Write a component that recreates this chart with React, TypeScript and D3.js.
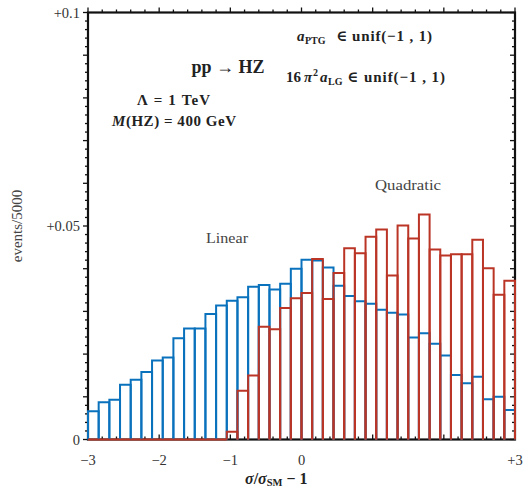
import React from "react";
import * as d3 from "d3";

const W = 524;
const H = 489;

// bin edges: 40 bins of width 0.15 from -3 to +3
const binEdges: number[] = d3.range(0, 41).map((i) => -3 + i * 0.15);

const linearValues: number[] = [
  0.0066, 0.0087, 0.0093, 0.0128, 0.014, 0.0158, 0.0185, 0.0192, 0.0237, 0.026,
  0.026, 0.0294, 0.0314, 0.0325, 0.0333, 0.0358, 0.0362, 0.0351, 0.0365, 0.04,
  0.0421, 0.0419, 0.0403, 0.036, 0.0336, 0.0324, 0.0318, 0.0304, 0.0297, 0.0293,
  0.0239, 0.0249, 0.0224, 0.0197, 0.0151, 0.0132, 0.0147, 0.0094, 0.01, 0.0069,
];

const quadraticValues: number[] = [
  0, 0, 0, 0, 0, 0, 0, 0, 0, 0,
  0, 0, 0, 0.0018, 0.0114, 0.015, 0.0264, 0.0258, 0.0308, 0.0331,
  0.0343, 0.0423, 0.0329, 0.039, 0.0448, 0.0436, 0.0475, 0.0492, 0.0384, 0.0501,
  0.0471, 0.0527, 0.0445, 0.0431, 0.0434, 0.0434, 0.0468, 0.0401, 0.0339, 0.0372,
];

const xTickLabels: { v: number; t: string }[] = [
  { v: -3, t: "\u22123" },
  { v: -2, t: "\u22122" },
  { v: -1, t: "\u22121" },
  { v: 0, t: "0" },
  { v: 3, t: "+3" },
];
const yTickLabels: { v: number; t: string }[] = [
  { v: 0, t: "0" },
  { v: 0.05, t: "+0.05" },
  { v: 0.1, t: "+0.1" },
];

const BLUE = "#0a72bd";
const RED = "#bb3526";
const SERIF = "'Liberation Serif', 'DejaVu Serif', serif";

export default function App() {
  const x = d3.scaleLinear().domain([-3, 3]).range([88, 515]);
  const y = d3.scaleLinear().domain([0, 0.1]).range([439.5, 12.5]);
  const x0 = x.range()[0], x1 = x.range()[1];
  const y0 = y.range()[0], y1 = y.range()[1];

  const xMinor = d3.range(0, 31).map((i) => -3 + i * 0.2);
  const yMinor = d3.range(0, 51).map((i) => i * 0.002);
  const isMajorX = (v: number) => Math.abs(v - Math.round(v)) < 1e-6;
  const isMajorY = (v: number) => Math.abs(v * 100 - Math.round(v * 100)) < 1e-6;

  const barPath = (i: number, v: number) => {
    const a = x(binEdges[i]);
    const b = x(binEdges[i + 1]);
    if (v <= 0) return `M${a},${y(0)}H${b}`;
    return `M${a},${y(0)}V${y(v)}H${b}V${y(0)}`;
  };

  return (
    <svg
      width={W}
      height={H}
      style={{ position: "absolute", left: 0, top: 0, background: "#fff" }}
      fontFamily={SERIF}
    >
      {/* ticks */}
      <g stroke="#111" strokeWidth={1.3}>
        {xMinor.map((v, i) => {
          const len = isMajorX(v) ? 5 : 3;
          return (
            <g key={"xt" + i}>
              <line x1={x(v)} x2={x(v)} y1={y1} y2={y1 - len} />
              <line x1={x(v)} x2={x(v)} y1={y0} y2={y0 - len} />
            </g>
          );
        })}
        {yMinor.map((v, i) => {
          const len = isMajorY(v) ? 5 : 3;
          return (
            <g key={"yt" + i}>
              <line x1={x0} x2={x0 - len} y1={y(v)} y2={y(v)} />
              <line x1={x1} x2={x1 - len} y1={y(v)} y2={y(v)} />
            </g>
          );
        })}
      </g>

      {/* frame */}
      <rect x={x0} y={y1} width={x1 - x0} height={y0 - y1} fill="none" stroke="#111" strokeWidth={2.2} />

      {/* histograms */}
      <g fill="none" strokeWidth={2} strokeLinejoin="miter">
        {linearValues.map((v, i) => (
          <path key={"l" + i} d={barPath(i, v)} stroke={BLUE} />
        ))}
        {quadraticValues.map((v, i) => (
          <path key={"q" + i} d={barPath(i, v)} stroke={RED} />
        ))}
      </g>

      {/* tick labels */}
      <g fill="#333" fontSize={14.5}>
        {xTickLabels.map((d) => (
          <text key={"xl" + d.v} x={x(d.v)} y={465} textAnchor="middle">
            {d.t}
          </text>
        ))}
        {yTickLabels.map((d) => (
          <text key={"yl" + d.v} x={80} y={y(d.v) + 5} textAnchor="end">
            {d.t}
          </text>
        ))}
      </g>

      {/* axis titles */}
      <text x={245} y={484} fontSize={16} fontWeight="bold" fill="#222">
        <tspan fontStyle="italic">σ</tspan>
        <tspan>/</tspan>
        <tspan fontStyle="italic">σ</tspan>
        <tspan fontSize={10.5} dy={2}>SM</tspan>
        <tspan dy={-2}>{" − 1"}</tspan>
      </text>
      <text
        transform="translate(22,226) rotate(-90)"
        textAnchor="middle"
        fontSize={15}
        fill="#444"
      >
        events/5000
      </text>

      {/* annotations */}
      <text x={228} y={73} textAnchor="middle" fontSize={18} fontWeight="bold" fill="#222">
        pp → HZ
      </text>
      <text x={137} y={105} fontSize={15} fontWeight="bold" fill="#222" textLength={73} lengthAdjust="spacing">
        Λ = 1 TeV
      </text>
      <text x={112} y={126} fontSize={15} fontWeight="bold" fill="#222" textLength={124} lengthAdjust="spacing">
        <tspan fontStyle="italic">M</tspan>(HZ) = 400 GeV
      </text>

      <g fontWeight="bold" fill="#222">
        <text x={297} y={41} fontSize={15} fontStyle="italic">a</text>
        <text x={305} y={44} fontSize={10}>PTG</text>
        <text x={336} y={41} fontSize={15}>∈</text>
        <text x={352} y={41} fontSize={15} textLength={80} lengthAdjust="spacing">unif(−1 , 1)</text>

        <text x={286} y={82} fontSize={15}>16</text>
        <text x={304} y={82} fontSize={15} fontStyle="italic">π</text>
        <text x={313} y={76} fontSize={10}>2</text>
        <text x={320} y={82} fontSize={15} fontStyle="italic">a</text>
        <text x={328} y={85} fontSize={10}>LG</text>
        <text x={347} y={82} fontSize={15}>∈</text>
        <text x={364} y={82} fontSize={15} textLength={81} lengthAdjust="spacing">unif(−1 , 1)</text>
      </g>

      <text x={206} y={243} fontSize={15} fill="#444" textLength={42} lengthAdjust="spacingAndGlyphs">
        Linear
      </text>
      <text x={375} y={190} fontSize={15} fill="#444" textLength={66} lengthAdjust="spacingAndGlyphs">
        Quadratic
      </text>
    </svg>
  );
}
